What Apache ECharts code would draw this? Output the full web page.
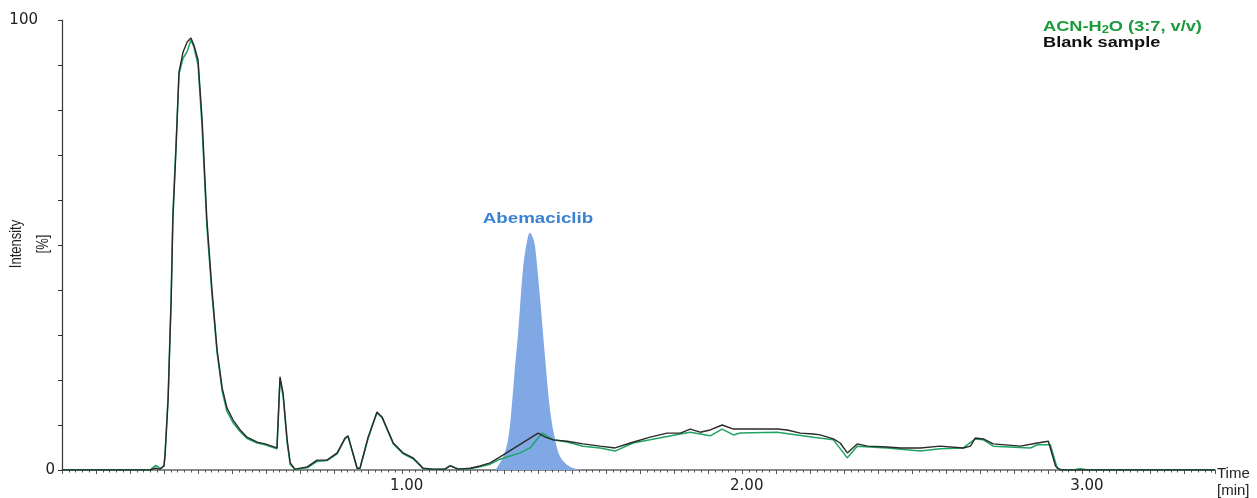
<!DOCTYPE html>
<html>
<head>
<meta charset="utf-8">
<script src="https://cdn.jsdelivr.net/npm/echarts@6/dist/echarts.min.js"></script>
<style>
html,body{margin:0;padding:0;background:#fff;}
#chart{width:1257px;height:498px;}
</style>
</head>
<body>
<div id="chart"></div>
<script>
// Time [min], Intensity [%]
var blankTrace = [
[0,0],[0.259,0],[0.274,0.4],[0.288,0.2],[0.300,0.9],[0.303,3.3],[0.312,15.6],[0.321,37.8],[0.326,55.6],[0.335,71],[0.344,88.4],[0.356,92.9],[0.368,95.1],[0.379,96],[0.388,94.4],[0.400,91.1],[0.412,77.8],[0.426,55.6],[0.441,40],[0.456,26.7],[0.471,18.2],[0.485,13.8],[0.503,11.1],[0.524,8.9],[0.544,7.3],[0.574,6.2],[0.597,5.8],[0.632,4.9],[0.641,20.7],[0.650,17.1],[0.662,6.7],[0.671,1.6],[0.685,0.2],[0.721,0.7],[0.750,2.2],[0.779,2.2],[0.809,3.8],[0.832,7.1],[0.841,7.6],[0.868,0.4],[0.876,0.4],[0.900,7.3],[0.926,12.9],[0.941,11.8],[0.974,6.0],[1.003,3.8],[1.032,2.7],[1.062,0.4],[1.091,0.2],[1.126,0.2],[1.141,0.9],[1.165,0.2],[1.200,0.4],[1.229,0.9],[1.259,1.6],[1.288,2.9],[1.400,8.2],[1.421,7.3],[1.444,6.7],[1.485,6.4],[1.532,5.8],[1.582,5.3],[1.626,4.9],[1.671,6.0],[1.729,7.3],[1.779,8.2],[1.818,8.2],[1.847,9.1],[1.876,8.4],[1.906,8.9],[1.941,10.0],[1.974,9.1],[2.024,9.1],[2.103,9.1],[2.132,8.9],[2.171,8.2],[2.209,8.0],[2.229,7.8],[2.268,6.9],[2.288,6.0],[2.309,3.8],[2.338,5.8],[2.368,5.3],[2.426,5.1],[2.465,4.9],[2.524,4.9],[2.582,5.3],[2.650,4.9],[2.671,5.3],[2.685,7.1],[2.709,6.9],[2.738,5.8],[2.818,5.3],[2.868,6.0],[2.900,6.4],[2.921,0.9],[2.935,0],[3.39,0]
];
var solventTrace = [
[0,0],[0.259,0],[0.268,0.6],[0.276,1.0],[0.290,0.3],[0.300,1.0],[0.303,3.5],[0.312,16.5],[0.321,39],[0.326,57],[0.335,72],[0.344,88],[0.356,91.5],[0.368,93],[0.379,95.5],[0.388,94],[0.400,90],[0.412,76],[0.426,54],[0.441,39],[0.456,26],[0.471,17.5],[0.485,13],[0.503,10.5],[0.524,8.5],[0.544,7.0],[0.574,6.0],[0.597,5.6],[0.632,4.7],[0.641,20.2],[0.650,16.5],[0.662,6],[0.671,1.2],[0.685,0.1],[0.721,0.5],[0.750,1.9],[0.779,2.1],[0.809,3.6],[0.832,6.9],[0.841,7.4],[0.868,0.2],[0.876,0.3],[0.900,7],[0.926,12.7],[0.941,11.6],[0.974,5.8],[1.003,3.6],[1.032,2.5],[1.062,0.3],[1.091,0.1],[1.126,0.2],[1.141,1.0],[1.165,0.2],[1.200,0.3],[1.229,0.7],[1.259,1.3],[1.288,2.4],[1.318,3.1],[1.347,3.8],[1.376,4.9],[1.412,8.2],[1.444,6.7],[1.485,6.2],[1.532,5.3],[1.582,4.9],[1.626,4.2],[1.679,6.0],[1.729,6.7],[1.818,8.0],[1.847,8.4],[1.906,7.6],[1.941,9.1],[1.974,7.8],[1.994,8.2],[2.103,8.4],[2.209,7.3],[2.268,6.7],[2.309,2.7],[2.338,5.3],[2.426,4.9],[2.524,4.2],[2.582,4.7],[2.650,4.9],[2.685,6.9],[2.709,6.7],[2.738,5.3],[2.847,4.9],[2.868,5.6],[2.906,5.6],[2.926,0.4],[2.941,0],[2.970,0],[2.994,0.3],[3.020,0],[3.39,0]
];
var abemaciclibPeak = [
[1.274,0],[1.297,2.9],[1.312,7],[1.324,15.6],[1.332,23],[1.341,30.4],[1.356,45.1],[1.368,51.1],[1.376,52.7],[1.385,51.5],[1.391,49.6],[1.406,37.8],[1.421,24.4],[1.435,13.3],[1.450,6.7],[1.465,2.9],[1.494,0.7],[1.529,0]
];
var xLabelValues = [1, 2, 3];
var yLabelValues = [0, 100];

var FONT = "Arial, 'Liberation Sans', sans-serif";
var LABEL_FONT = "'DejaVu Sans', Arial, sans-serif";
var chart = echarts.init(document.getElementById('chart'), null, {renderer: 'canvas'});
chart.setOption({
  animation: false,
  backgroundColor: '#fff',
  grid: {left: 62, top: 20, right: 42, bottom: 28, containLabel: false},
  xAxis: {
    type: 'value', min: 0, max: 3.39, interval: 0.1,
    axisLine: {show: true, lineStyle: {color: '#666', width: 1.5}},
    axisTick: {show: true, inside: false, length: 4, lineStyle: {color: '#555'}},
    minorTick: {show: true, splitNumber: 5, length: 2.5, lineStyle: {color: '#555'}},
    splitLine: {show: false},
    axisLabel: {
      show: true, margin: 9, color: '#222', fontSize: 15, fontFamily: LABEL_FONT,
      padding: [0, 0, 0, 9],
      formatter: function (v) {
        for (var i = 0; i < xLabelValues.length; i++) {
          if (Math.abs(v - xLabelValues[i]) < 1e-6) return xLabelValues[i].toFixed(2);
        }
        return '';
      }
    }
  },
  yAxis: {
    type: 'value', min: 0, max: 100, interval: 10,
    axisLine: {show: true, lineStyle: {color: '#333', width: 1.2}},
    axisTick: {show: true, inside: false, length: 4, lineStyle: {color: '#333'}},
    splitLine: {show: false},
    axisLabel: {
      show: true, margin: 7, color: '#222', fontSize: 15, fontFamily: LABEL_FONT,
      rich: {top: {fontSize: 15, fontFamily: LABEL_FONT, color: '#222', padding: [0, 17, 0, 0]}},
      formatter: function (v) {
        var r = Math.round(v);
        if (Math.abs(v - r) > 1e-6 || yLabelValues.indexOf(r) < 0) return '';
        return r === 100 ? '{top|100}' : String(r);
      }
    }
  },
  series: [
    {
      name: 'Abemaciclib', type: 'line', data: abemaciclibPeak, smooth: 0.35,
      showSymbol: false, symbol: 'none',
      lineStyle: {width: 0, color: '#80a8e4'},
      areaStyle: {color: '#80a8e4', opacity: 1},
      z: 1
    },
    {
      name: 'ACN-H2O (3:7, v/v)', type: 'line', data: solventTrace,
      showSymbol: false, symbol: 'none',
      lineStyle: {width: 1.5, color: '#1fa463'}, z: 2
    },
    {
      name: 'Blank sample', type: 'line', data: blankTrace,
      showSymbol: false, symbol: 'none',
      lineStyle: {width: 1.4, color: '#2a2a2a'}, z: 3
    }
  ],
  graphic: [
    {type: 'text', x: 30, y: 244, rotation: Math.PI / 2, scaleY: 1.25,
     style: {text: 'Intensity\n[%]', font: '13px ' + FONT, fill: '#222', align: 'center', verticalAlign: 'middle', lineHeight: 22}},
    {type: 'text', x: 1217, y: 482,
     style: {text: 'Time\n[min]', font: '15px ' + FONT, fill: '#222', align: 'left', verticalAlign: 'middle', lineHeight: 17}},
    {type: 'text', x: 538, y: 219, scaleX: 1.25,
     style: {text: 'Abemaciclib', font: 'bold 15px ' + FONT, fill: '#3b82d4', align: 'center', verticalAlign: 'middle'}},
    {type: 'text', x: 1043, y: 27, scaleX: 1.3,
     style: {text: 'ACN-H{sub|2}O (3:7, v/v)', font: 'bold 14px ' + FONT, fill: '#1a9a3a', align: 'left', verticalAlign: 'middle',
       rich: {sub: {fontSize: 10, fontWeight: 'bold', fontFamily: FONT, fill: '#1a9a3a', verticalAlign: 'bottom', padding: [6, 0, 0, 0]}}}},
    {type: 'text', x: 1043, y: 43, scaleX: 1.3,
     style: {text: 'Blank sample', font: 'bold 14px ' + FONT, fill: '#111', align: 'left', verticalAlign: 'middle'}}
  ]
});
</script>
</body>
</html>
